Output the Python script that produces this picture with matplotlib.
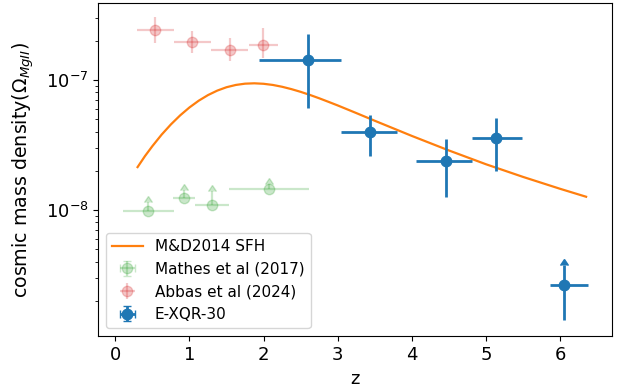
import matplotlib
matplotlib.use('Agg')
import matplotlib.pyplot as plt

# M&D2014 SFH curve (scaled)
sfh_z = [0.3, 0.4, 0.5, 0.625, 0.75, 0.875, 1.0, 1.125, 1.25, 1.375, 1.5,
         1.625, 1.75, 1.875, 2.0, 2.125, 2.25, 2.375, 2.5, 2.625, 2.75,
         2.875, 3.0, 3.25, 3.5, 4.0, 4.5, 5.0, 5.5, 6.0, 6.35]
sfh_omega = [2.13e-8, 2.59e-8, 3.09e-8, 3.79e-8, 4.54e-8, 5.33e-8, 6.13e-8,
             6.91e-8, 7.63e-8, 8.26e-8, 8.77e-8, 9.13e-8, 9.34e-8, 9.40e-8,
             9.32e-8, 9.13e-8, 8.84e-8, 8.48e-8, 8.08e-8, 7.65e-8, 7.21e-8,
             6.77e-8, 6.35e-8, 5.55e-8, 4.84e-8, 3.70e-8, 2.86e-8, 2.24e-8,
             1.79e-8, 1.45e-8, 1.26e-8]

# Mathes et al (2017), lower limits
mathes_z = [0.44, 0.92, 1.30, 2.075]
mathes_zlo = [0.34, 0.14, 0.22, 0.535]
mathes_zhi = [0.35, 0.15, 0.23, 0.535]
mathes_omega = [9.8e-9, 1.24e-8, 1.08e-8, 1.44e-8]
mathes_err = [1.6e-9, 1.9e-9, 3.2e-9, 1.45e-9]

# Abbas et al (2024)
abbas_z = [0.54, 1.04, 1.545, 1.99]
abbas_zlo = [0.25, 0.245, 0.255, 0.19]
abbas_zhi = [0.25, 0.25, 0.245, 0.20]
abbas_omega = [2.43e-7, 1.95e-7, 1.69e-7, 1.86e-7]
abbas_lo = [0.52e-7, 0.33e-7, 0.30e-7, 0.38e-7]
abbas_hi = [0.60e-7, 0.41e-7, 0.40e-7, 0.63e-7]

# E-XQR-30 (last bin is a lower limit)
xqr_z = [2.60, 3.44, 4.46, 5.14, 6.05]
xqr_zlo = [0.66, 0.39, 0.41, 0.33, 0.19]
xqr_zhi = [0.45, 0.36, 0.35, 0.35, 0.33]
xqr_omega = [1.43e-7, 4.0e-8, 2.39e-8, 3.56e-8, 2.62e-9]
xqr_lo = [0.82e-7, 1.4e-8, 1.13e-8, 1.56e-8, 1.19e-9]
xqr_hi = [0.83e-7, 1.38e-8, 1.11e-8, 1.51e-8, 1.16e-9]
xqr_lim = [False, False, False, False, True]

plt.rcParams['font.size'] = 13

fig = plt.figure(figsize=(6.22, 3.91), dpi=100)
ax = fig.add_axes([0.158, 0.141, 0.826, 0.851])

ax.plot(sfh_z, sfh_omega, color='C1', lw=1.6, label='M&D2014 SFH')

ax.errorbar(mathes_z, mathes_omega, xerr=[mathes_zlo, mathes_zhi],
            yerr=mathes_err, lolims=True, fmt='o', color='C2', alpha=0.25,
            ms=7.5, elinewidth=1.6, label='Mathes et al (2017)')
ax.errorbar(abbas_z, abbas_omega, xerr=[abbas_zlo, abbas_zhi],
            yerr=[abbas_lo, abbas_hi], fmt='o', color='C3', alpha=0.25,
            ms=7.5, elinewidth=1.6, label='Abbas et al (2024)')

ax.errorbar(xqr_z, xqr_omega, xerr=[xqr_zlo, xqr_zhi],
            yerr=[xqr_lo, xqr_hi], lolims=xqr_lim, fmt='o', color='C0',
            ms=7.5, elinewidth=2, label='E-XQR-30')
# lower part of the bar for the limit bin
lim_z = [z for z, l in zip(xqr_z, xqr_lim) if l]
lim_omega = [o for o, l in zip(xqr_omega, xqr_lim) if l]
lim_lo = [e for e, l in zip(xqr_lo, xqr_lim) if l]
ax.errorbar(lim_z, lim_omega, yerr=[lim_lo, [0] * len(lim_lo)], fmt='none',
            ecolor='C0', elinewidth=2)

ax.set_yscale('log')
ax.set_xlim(-0.23, 6.70)
ax.set_ylim(10 ** -8.97, 10 ** -6.41)
ax.set_xlabel('z', labelpad=4.5)
ax.set_ylabel(r'cosmic mass density($\Omega_{MgII}$)', fontsize=13.7,
              labelpad=7)
ax.legend(loc='lower left', fontsize=11)

fig.savefig('out.png', dpi=100)
